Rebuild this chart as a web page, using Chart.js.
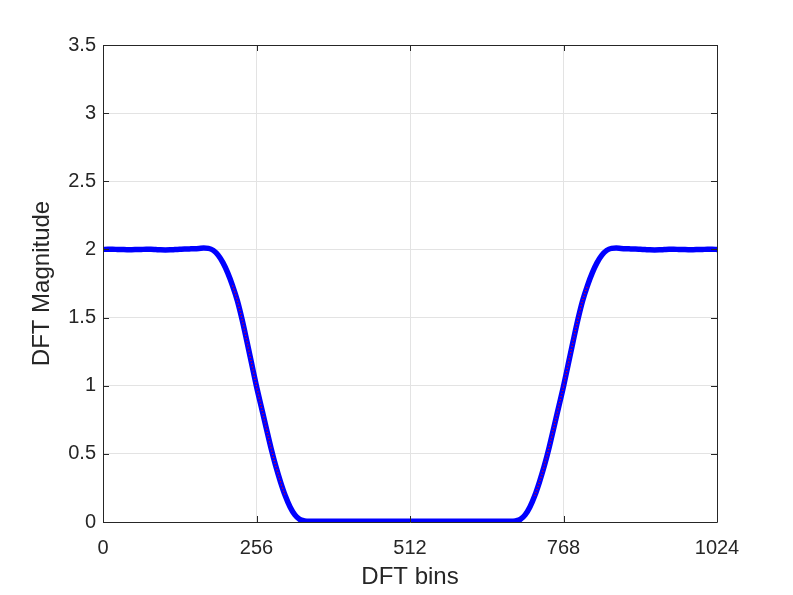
<!DOCTYPE html>
<html><head><meta charset="utf-8">
<script src="https://cdn.jsdelivr.net/npm/chart.js@4.4.1/dist/chart.umd.min.js"></script>
<style>html,body{margin:0;padding:0;background:#fff}#wrap{width:793px;height:595px}</style>
</head><body><div id="wrap"><canvas id="c" width="793" height="595"></canvas></div>
<script>
const bins = [
  0,8,16,24,32,40,48,56,64,72,80,88,96,104,112,120,
  128,136,144,152,160,168,176,184,192,200,208,216,224,232,240,248,
  256,264,272,280,288,296,304,312,320,328,336,344,352,360,368,376,
  384,392,400,408,416,424,432,440,448,456,464,472,480,488,496,504,
  512,520,528,536,544,552,560,568,576,584,592,600,608,616,624,632,
  640,648,656,664,672,680,688,696,704,712,720,728,736,744,752,760,
  768,776,784,792,800,808,816,824,832,840,848,856,864,872,880,888,
  896,904,912,920,928,936,944,952,960,968,976,984,992,1000,1008,1016,1024
];
const magnitude = [
  2.000,2.001,2.001,2.000,1.999,1.998,1.998,1.999,2.000,2.001,2.001,1.999,1.997,1.996,1.997,1.999,
  2.001,2.003,2.004,2.005,2.007,2.010,2.008,1.993,1.958,1.903,1.828,1.735,1.625,1.485,1.325,1.160,
  0.995,0.845,0.695,0.546,0.412,0.295,0.192,0.110,0.052,0.019,0.008,0.005,0.006,0.006,0.005,0.005,
  0.006,0.006,0.005,0.005,0.006,0.006,0.005,0.005,0.006,0.006,0.005,0.005,0.006,0.006,0.005,0.005,
  0.006,0.005,0.005,0.006,0.006,0.005,0.005,0.006,0.006,0.005,0.005,0.006,0.006,0.005,0.005,0.006,
  0.006,0.005,0.005,0.006,0.006,0.005,0.008,0.019,0.052,0.110,0.192,0.295,0.412,0.546,0.695,0.845,
  0.995,1.160,1.325,1.485,1.625,1.735,1.828,1.903,1.958,1.993,2.008,2.010,2.007,2.005,2.004,2.003,
  2.001,1.999,1.997,1.996,1.997,1.999,2.001,2.001,2.000,1.999,1.998,1.998,1.999,2.000,2.001,2.001,2.000
];
const xTicks = [0, 256, 512, 768, 1024];
const yTicks = [0, 0.5, 1, 1.5, 2, 2.5, 3, 3.5];
const xLabel = 'DFT bins';
const yLabel = 'DFT Magnitude';

const pts = bins.map((b, i) => ({x: b, y: magnitude[i]}));
const AX = '#262626';

const boxPlugin = {
  id: 'box',
  afterDraw(chart) {
    const {ctx, chartArea: a, scales: {x, y}} = chart;
    ctx.save();
    ctx.strokeStyle = AX;
    ctx.lineWidth = 1;
    ctx.beginPath();
    ctx.rect(Math.round(a.left) + 0.5, Math.round(a.top) + 0.5, Math.round(a.right - a.left), Math.round(a.bottom - a.top));
    const tl = 6;
    xTicks.forEach(v => {
      const px = Math.round(x.getPixelForValue(v)) + 0.5;
      ctx.moveTo(px, a.bottom); ctx.lineTo(px, a.bottom - tl);
      ctx.moveTo(px, a.top); ctx.lineTo(px, a.top + tl);
    });
    yTicks.forEach(v => {
      const py = Math.round(y.getPixelForValue(v)) + 0.5;
      ctx.moveTo(a.left, py); ctx.lineTo(a.left + tl, py);
      ctx.moveTo(a.right, py); ctx.lineTo(a.right - tl, py);
    });
    ctx.stroke();
    ctx.restore();
  }
};

new Chart(document.getElementById('c'), {
  type: 'line',
  data: {
    datasets: [
      {
        data: pts, order: 0,
        borderColor: '#ff0000', borderWidth: 1.3, borderDash: [1, 2.2],
        pointRadius: 0, cubicInterpolationMode: 'monotone', fill: false,
        segment: {
          borderColor: ctx => Math.abs(ctx.p1.parsed.y - ctx.p0.parsed.y) > 0.1 ? '#ff0000' : 'rgba(0,0,0,0)'
        }
      },
      {
        data: pts, order: 1,
        borderColor: '#0000ff', borderWidth: 5.5, borderCapStyle: 'round', borderJoinStyle: 'round',
        pointRadius: 0, cubicInterpolationMode: 'monotone', fill: false
      }
    ]
  },
  plugins: [boxPlugin],
  options: {
    responsive: false, animation: false,
    layout: {padding: {top: 45, right: 76, left: 0, bottom: 0}},
    plugins: {legend: {display: false}, tooltip: {enabled: false}},
    scales: {
      x: {
        type: 'linear', min: 0, max: 1024,
        afterBuildTicks: s => { s.ticks = xTicks.map(v => ({value: v})); },
        afterFit: s => { s.height = 73; },
        grid: {color: '#e3e3e3', drawTicks: false},
        border: {display: false},
        ticks: {color: AX, padding: 14, font: {family: 'Liberation Sans', size: 20}, maxRotation: 0, callback: v => String(v)},
        title: {display: true, text: xLabel, color: AX, padding: {top: 3, bottom: 3}, font: {family: 'Liberation Sans', size: 24}}
      },
      y: {
        min: 0, max: 3.5,
        afterBuildTicks: s => { s.ticks = yTicks.map(v => ({value: v})); },
        afterFit: s => { s.width = 103; },
        grid: {color: '#e3e3e3', drawTicks: false},
        border: {display: false},
        ticks: {color: AX, padding: 7, font: {family: 'Liberation Sans', size: 20}, callback: v => String(v)},
        title: {display: true, text: yLabel, color: AX, padding: {top: 28, bottom: 28}, font: {family: 'Liberation Sans', size: 24}}
      }
    }
  }
});
</script></body></html>
